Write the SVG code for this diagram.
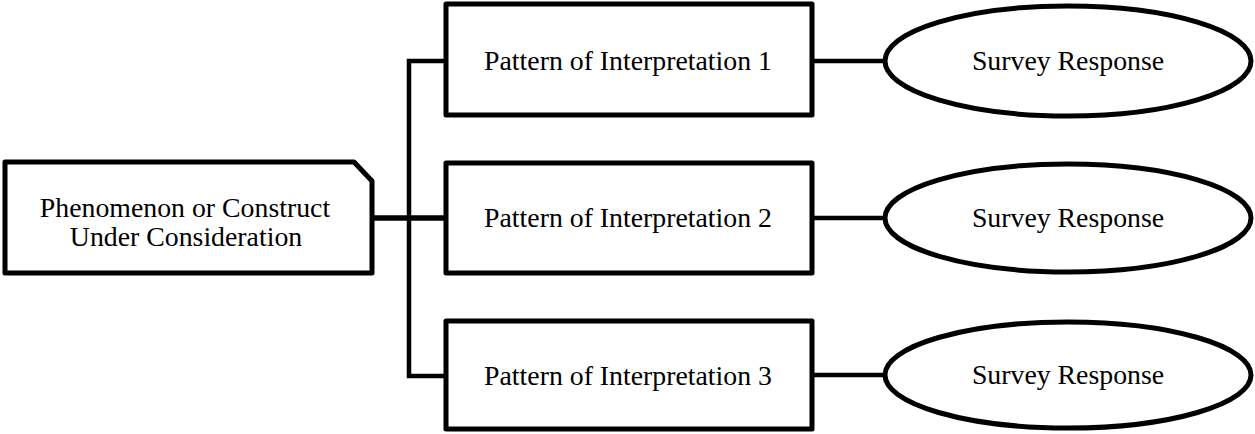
<svg xmlns="http://www.w3.org/2000/svg" width="1255" height="434" viewBox="0 0 1255 434">
<style>
.shape{fill:#fff;stroke:#000;stroke-width:5;stroke-linejoin:round}
.conn{fill:none;stroke:#000;stroke-width:4.5;stroke-linejoin:miter}
.lbl{font-family:"Liberation Serif","Times New Roman",serif;font-size:27.8px;fill:#000;text-anchor:middle}
</style>
<rect width="1255" height="434" fill="#fff"/>
<g id="connectors">
<path class="conn" d="M372,218 H446" style="stroke-width:5.5"/>
<path class="conn" d="M446,61 H409 V376 H446"/>
<path class="conn" d="M812,61 H885"/>
<path class="conn" d="M812,218 H885"/>
<path class="conn" d="M812,375 H885"/>
</g>
<g id="phenomenon">
<path class="shape" d="M5,162 H354 L372,181 V273 H5 Z"/>
<text class="lbl" x="185" y="217">Phenomenon or Construct</text>
<text class="lbl" x="186" y="246">Under Consideration</text>
</g>
<g id="pattern1">
<rect class="shape" x="446" y="4" width="366" height="111"/>
<text class="lbl" x="628" y="70">Pattern of Interpretation 1</text>
</g>
<g id="pattern2">
<rect class="shape" x="446" y="163" width="366" height="110"/>
<text class="lbl" x="628" y="227">Pattern of Interpretation 2</text>
</g>
<g id="pattern3">
<rect class="shape" x="446" y="321" width="366" height="108"/>
<text class="lbl" x="628" y="385">Pattern of Interpretation 3</text>
</g>
<g id="response1">
<ellipse class="shape" cx="1068" cy="61" rx="183" ry="55"/>
<text class="lbl" x="1068" y="70">Survey Response</text>
</g>
<g id="response2">
<ellipse class="shape" cx="1068" cy="218" rx="183" ry="54"/>
<text class="lbl" x="1068" y="227">Survey Response</text>
</g>
<g id="response3">
<ellipse class="shape" cx="1068" cy="375" rx="183" ry="53"/>
<text class="lbl" x="1068" y="384">Survey Response</text>
</g>
</svg>
